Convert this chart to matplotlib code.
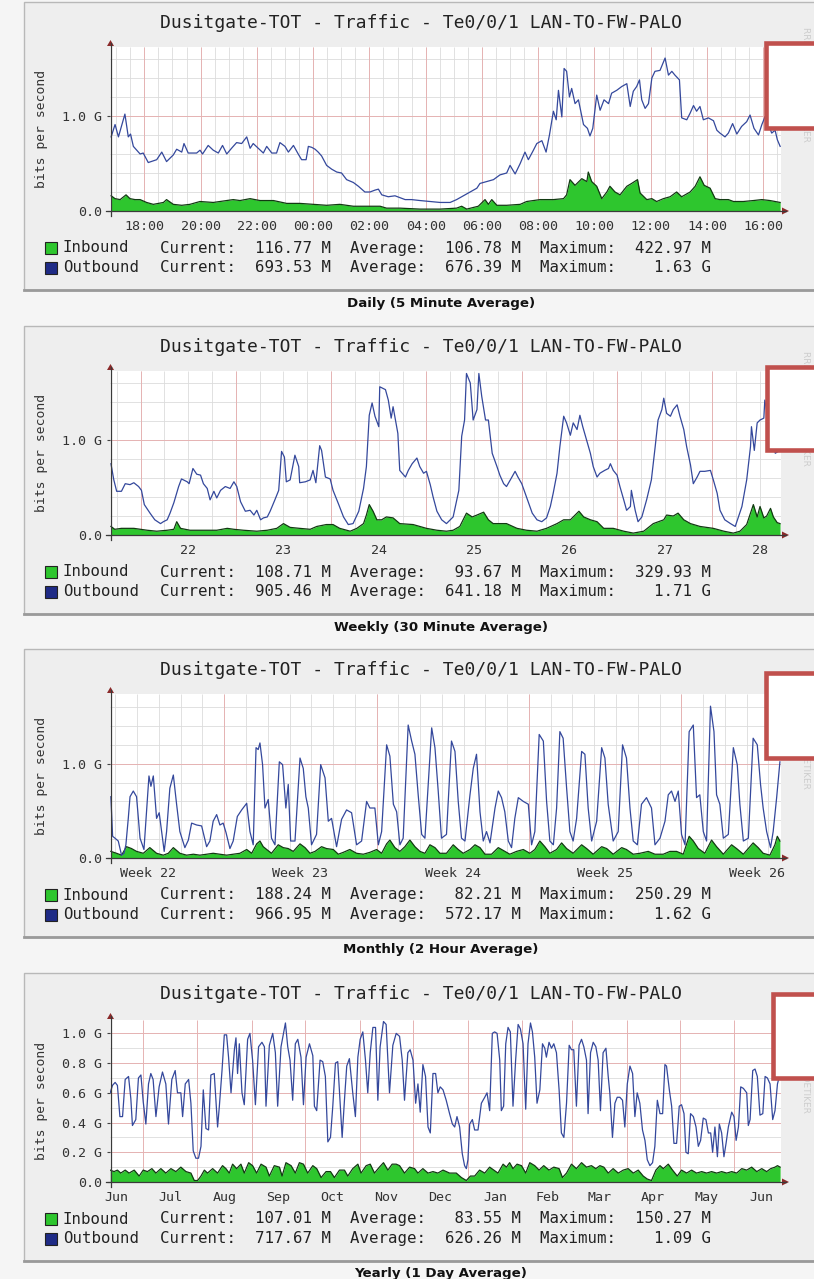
import numpy as np
import matplotlib
matplotlib.use("Agg")
import matplotlib.pyplot as plt
from matplotlib.patches import Rectangle, Polygon

W, H = 814, 1279
MONO = "DejaVu Sans Mono"
TITLE = "Dusitgate-TOT - Traffic - Te0/0/1 LAN-TO-FW-PALO"

# ---------------- daily: x in hours (24 = 00:00 next day), y in Gbit/s ----------------
DAY_OUT_T = [16.82,16.96,17.08,17.31,17.43,17.51,17.61,17.85,17.96,18.14,18.44,18.62,18.79,19.03,19.15,19.33,19.41,19.56,19.86,19.98,
             20.07,20.27,20.45,20.63,20.78,20.93,21.10,21.28,21.46,21.64,21.76,21.87,22.05,22.23,22.35,22.53,22.70,22.82,23.00,23.12,
             23.30,23.47,23.59,23.75,23.83,23.95,24.07,24.18,24.30,24.48,24.66,24.84,25.01,25.19,25.43,25.61,25.84,26.02,26.20,26.32,
             26.44,26.67,26.91,27.09,27.27,27.50,27.80,
             28.16,28.51,28.87,29.10,29.34,29.58,29.82,29.93,30.17,30.41,30.64,30.88,31.00,31.18,31.36,31.53,31.65,31.83,31.95,32.13,
             32.28,32.40,32.54,32.64,32.72,32.84,32.92,33.01,33.11,33.19,33.31,33.43,33.61,33.75,33.84,33.94,34.08,34.20,34.34,34.50,
             34.61,34.79,34.97,35.15,35.27,35.38,35.50,35.60,35.68,35.80,35.92,36.04,36.15,36.33,36.51,36.63,36.75,36.86,37.02,37.10,
             37.28,37.40,37.52,37.63,37.75,37.87,38.05,38.23,38.35,38.46,38.64,38.76,38.91,39.06,39.23,39.41,39.53,39.67,39.83,39.95,
             40.06,40.18,40.30,40.42,40.50,40.60]
DAY_OUT = [0.78,0.91,0.78,1.02,0.78,0.81,0.68,0.60,0.61,0.51,0.54,0.62,0.52,0.59,0.65,0.62,0.71,0.61,0.61,0.64,
           0.60,0.69,0.64,0.61,0.69,0.60,0.66,0.72,0.71,0.78,0.66,0.71,0.66,0.61,0.68,0.61,0.61,0.72,0.68,0.62,
           0.69,0.60,0.54,0.54,0.68,0.67,0.65,0.62,0.58,0.48,0.44,0.41,0.40,0.33,0.30,0.26,0.20,0.20,0.22,0.23,
           0.17,0.15,0.16,0.14,0.12,0.12,0.11,
           0.10,0.09,0.09,0.12,0.16,0.20,0.24,0.29,0.31,0.33,0.38,0.40,0.48,0.39,0.50,0.62,0.54,0.64,0.71,0.74,
           0.62,0.80,1.05,0.96,1.27,0.99,1.50,1.47,1.20,1.29,1.13,1.17,0.91,0.87,0.79,0.87,1.22,1.06,1.17,1.13,
           1.24,1.27,1.31,1.34,1.10,1.26,1.31,1.38,1.17,1.08,1.13,1.40,1.47,1.48,1.61,1.43,1.47,1.43,1.38,0.98,
           0.96,1.03,1.11,1.05,1.10,0.96,0.98,0.95,0.85,0.82,0.78,0.82,0.92,0.81,0.89,0.94,1.01,0.87,0.80,0.91,
           0.99,0.91,0.82,0.85,0.75,0.68]
DAY_IN_T = [16.82,16.96,17.14,17.35,17.49,17.67,17.85,18.08,18.32,18.68,18.79,19.03,19.33,19.62,19.98,20.45,20.69,21.16,21.40,21.76,
            22.11,22.59,23.06,23.53,24.01,24.48,24.95,25.43,25.90,26.38,26.61,27.09,27.80,28.51,29.10,29.28,29.46,29.87,30.11,30.23,
            30.35,30.53,30.88,31.36,31.59,32.07,32.54,32.90,33.01,33.13,33.31,33.55,33.73,33.78,33.90,34.08,34.26,34.44,34.55,34.73,
            34.91,35.15,35.32,35.53,35.62,35.86,36.04,36.21,36.45,36.69,36.92,37.10,37.40,37.58,37.75,37.90,38.11,38.29,38.46,38.76,
            38.94,39.29,39.65,39.95,40.24,40.60]
DAY_IN = [0.16,0.13,0.12,0.17,0.13,0.12,0.12,0.09,0.07,0.09,0.12,0.07,0.06,0.07,0.10,0.09,0.10,0.12,0.11,0.13,
          0.11,0.11,0.08,0.08,0.07,0.06,0.07,0.05,0.05,0.05,0.03,0.03,0.02,0.02,0.03,0.05,0.02,0.05,0.12,0.07,
          0.12,0.06,0.06,0.07,0.10,0.12,0.12,0.13,0.17,0.33,0.27,0.34,0.31,0.41,0.31,0.26,0.13,0.20,0.26,0.20,
          0.17,0.26,0.29,0.33,0.19,0.12,0.13,0.10,0.13,0.15,0.20,0.15,0.20,0.26,0.36,0.27,0.24,0.13,0.12,0.12,
          0.10,0.10,0.11,0.12,0.11,0.09]
DAY_TICKS = [18, 20, 22, 24, 26, 28, 30, 32, 34, 36, 38, 40]
DAY_LABELS = ["18:00", "20:00", "22:00", "00:00", "02:00", "04:00",
              "06:00", "08:00", "10:00", "12:00", "14:00", "16:00"]
DAY_LEG = ["Current:  116.77 M  Average:  106.78 M  Maximum:  422.97 M",
           "Current:  693.53 M  Average:  676.39 M  Maximum:    1.63 G"]

# ---------------- weekly: x in days (23.0 = midnight starting the 23rd) ----------------
WEEK_OUT_T = [21.69,21.72,21.75,21.80,21.84,21.89,21.93,21.98,22.01,22.04,22.10,22.15,22.21,22.24,22.28,22.31,22.35,22.40,22.43,22.49,
              22.51,22.55,22.59,22.63,22.66,22.70,22.73,22.77,22.80,22.84,22.89,22.94,22.98,23.01,23.05,23.10,23.15,23.19,23.22,23.26,
              23.29,23.33,23.36,23.41,23.45,23.48,23.51,23.53,23.57,23.62,23.66,23.67,23.73,23.78,23.81,23.84,23.88,23.90,23.94,23.99,
              24.02,24.08,24.13,24.18,24.23,24.29,24.34,24.37,24.40,24.43,24.46,24.50,24.51,24.57,24.60,24.63,24.65,24.70,24.72,
              24.78,24.81,24.85,24.90,24.93,24.97,25.00,25.04,25.07,25.11,25.16,25.21,25.25,25.28,25.34,25.37,25.40,25.42,25.46,25.49,
              25.53,25.55,25.58,25.62,25.65,25.69,25.74,25.77,25.81,25.84,25.88,25.93,25.96,26.00,26.05,26.11,26.16,26.21,26.26,26.30,
              26.33,26.37,26.40,26.44,26.47,26.51,26.54,26.58,26.61,26.64,26.68,26.72,26.75,26.79,26.82,26.87,26.91,26.93,26.96,27.00,
              27.03,27.07,27.10,27.14,27.15,27.19,27.22,27.26,27.31,27.36,27.40,27.43,27.47,27.49,27.52,27.56,27.59,27.63,27.66,27.70,
              27.73,27.77,27.80,27.84,27.87,27.92,27.98,28.01,28.05,28.08,28.13,28.19,28.24,28.27,28.31,28.36,28.40,28.41,28.44,28.47,
              28.50,28.54,28.55,28.59,28.62,28.66,28.69,28.71]
WEEK_OUT = [0.75,0.58,0.46,0.46,0.54,0.53,0.55,0.51,0.47,0.32,0.23,0.16,0.12,0.14,0.16,0.23,0.34,0.51,0.59,0.56,
            0.54,0.70,0.64,0.63,0.54,0.49,0.37,0.46,0.39,0.47,0.51,0.49,0.56,0.51,0.35,0.25,0.26,0.21,0.26,0.16,
            0.18,0.19,0.25,0.37,0.47,0.88,0.82,0.56,0.58,0.84,0.72,0.55,0.56,0.58,0.68,0.55,0.94,0.89,0.61,0.59,
            0.47,0.32,0.19,0.11,0.12,0.25,0.49,0.72,1.26,1.39,1.25,1.14,1.56,1.53,1.42,1.23,1.35,1.07,0.68,
            0.61,0.68,0.75,0.81,0.72,0.65,0.67,0.53,0.40,0.25,0.16,0.12,0.16,0.19,0.47,1.04,1.21,1.70,1.60,1.21,
            1.32,1.70,1.46,1.21,1.21,0.86,0.72,0.63,0.54,0.51,0.58,0.67,0.61,0.54,0.40,0.23,0.16,0.14,0.18,0.30,
            0.44,0.65,0.93,1.25,1.18,1.05,1.18,1.11,1.26,1.14,1.00,0.86,0.72,0.61,0.65,0.68,0.70,0.75,0.68,0.63,
            0.51,0.37,0.26,0.30,0.47,0.26,0.14,0.19,0.37,0.58,0.93,1.21,1.32,1.44,1.28,1.25,1.32,1.37,1.25,1.11,
            0.93,0.74,0.54,0.61,0.67,0.67,0.68,0.58,0.44,0.26,0.16,0.12,0.09,0.18,0.30,0.58,0.93,1.14,0.89,1.18,
            1.21,1.23,1.42,1.21,1.05,0.86,0.88,0.93]
WEEK_IN_T = [21.69,21.73,21.80,21.93,22.00,22.07,22.17,22.28,22.35,22.38,22.42,22.52,22.66,22.80,22.91,22.98,23.08,23.22,23.33,23.43,
             23.50,23.57,23.67,23.78,23.85,23.95,24.02,24.09,24.20,24.27,24.34,24.37,24.40,24.44,24.48,24.53,24.58,24.65,24.72,24.86,
             25.00,25.11,25.21,25.28,25.35,25.42,25.48,25.53,25.60,25.65,25.70,25.77,25.84,25.95,26.05,26.16,26.26,26.37,26.44,26.51,
             26.60,26.65,26.72,26.79,26.86,26.96,27.07,27.17,27.28,27.38,27.49,27.52,27.59,27.64,27.70,27.77,27.87,28.01,28.12,28.22,
             28.29,28.36,28.43,28.47,28.50,28.54,28.57,28.61,28.64,28.68,28.71]
WEEK_IN = [0.09,0.06,0.07,0.07,0.06,0.05,0.04,0.05,0.06,0.14,0.07,0.05,0.05,0.05,0.07,0.06,0.05,0.04,0.05,0.07,
           0.12,0.08,0.07,0.06,0.09,0.11,0.11,0.07,0.04,0.07,0.12,0.21,0.32,0.25,0.16,0.16,0.19,0.18,0.12,0.11,
           0.07,0.05,0.04,0.05,0.09,0.23,0.19,0.21,0.24,0.16,0.12,0.12,0.12,0.07,0.05,0.04,0.07,0.12,0.16,0.16,
           0.25,0.19,0.16,0.14,0.07,0.07,0.04,0.02,0.04,0.12,0.16,0.21,0.20,0.23,0.16,0.12,0.09,0.07,0.04,0.02,
           0.04,0.11,0.32,0.19,0.30,0.18,0.20,0.28,0.19,0.13,0.12]
WEEK_TICKS = [22.5, 23.5, 24.5, 25.5, 26.5, 27.5, 28.5]
WEEK_LABELS = ["22", "23", "24", "25", "26", "27", "28"]
WEEK_LEG = ["Current:  108.71 M  Average:   93.67 M  Maximum:  329.93 M",
            "Current:  905.46 M  Average:  641.18 M  Maximum:    1.71 G"]

# ---------------- monthly: x in days since start of week 22 ----------------
MONTH_OUT_T = [1.79,1.87,1.98,2.13,2.28,2.39,2.48,2.59,2.67,2.82,2.97,3.13,3.31,3.43,3.54,3.63,3.74,3.89,4.01,4.12,
               4.24,4.35,4.50,4.66,4.81,4.96,5.19,5.35,5.50,5.73,5.96,6.19,6.34,6.49,6.65,6.80,6.95,7.08,7.26,7.41,
               7.60,7.80,8.03,8.18,8.33,8.46,8.56,8.64,8.76,8.87,9.02,9.17,9.33,9.53,9.68,9.83,9.94,10.05,10.25,10.48,
               10.63,10.75,10.86,11.01,11.24,11.43,11.63,11.78,11.93,12.16,12.39,12.62,12.85,13.08,13.31,13.54,13.69,13.92,14.08,14.23,
               14.46,14.61,14.77,14.92,15.07,15.22,
               15.45,15.61,15.76,15.91,16.07,16.22,16.37,16.53,16.68,16.83,16.98,17.21,17.44,17.60,17.75,17.90,18.06,18.29,18.44,18.59,
               18.75,18.90,19.05,19.21,19.44,19.59,19.74,19.89,20.05,20.20,20.35,20.51,20.74,20.97,21.12,21.27,21.47,21.66,21.81,21.96,
               22.12,22.27,22.42,22.57,22.73,22.88,23.03,23.19,23.42,23.57,23.72,23.88,24.11,24.34,24.49,24.64,24.87,25.10,25.30,25.48,
               25.64,25.79,25.98,26.17,26.40,26.63,26.79,27.02,27.25,27.40,27.55,27.71,27.86,28.01,28.17,28.36,28.55,28.70,28.85,29.01,
               29.16,29.34,29.50,29.62,29.77,29.93,30.16,30.39,30.57,30.69,30.85,31.08,31.30,31.49,31.64,31.76,31.92,32.10,32.22,32.38,
               32.53]
MONTH_OUT = [0.65,0.23,0.21,0.18,0.03,0.05,0.14,0.42,0.65,0.71,0.65,0.21,0.09,0.49,0.87,0.76,0.87,0.42,0.48,0.28,
             0.07,0.28,0.74,0.88,0.57,0.28,0.11,0.19,0.37,0.35,0.34,0.12,0.18,0.39,0.46,0.35,0.37,0.27,0.10,0.18,
             0.44,0.51,0.58,0.28,0.14,1.17,1.15,1.22,0.99,0.53,0.62,0.21,0.14,1.02,0.99,0.53,0.78,0.18,0.18,1.06,
             0.95,0.65,0.53,0.14,0.25,0.99,0.85,0.39,0.42,0.12,0.41,0.51,0.48,0.14,0.18,0.60,0.53,0.53,0.14,0.28,
             1.20,1.08,0.57,0.49,0.14,0.21,
             1.41,1.24,1.10,0.67,0.25,0.21,0.78,1.38,1.17,0.71,0.21,0.25,1.24,1.13,0.60,0.21,0.18,0.67,0.95,1.10,
             0.49,0.18,0.28,0.16,0.53,0.71,0.64,0.49,0.18,0.11,0.42,0.64,0.60,0.57,0.14,0.28,1.31,1.24,0.60,0.18,
             0.14,0.53,1.34,1.27,0.74,0.28,0.18,0.42,1.13,1.10,0.53,0.18,0.39,1.17,1.06,0.57,0.18,0.28,1.20,1.06,
             0.53,0.18,0.14,0.57,0.64,0.53,0.14,0.21,0.39,0.67,0.71,0.60,0.71,0.25,0.14,1.34,1.41,0.64,0.67,0.28,
             0.18,1.61,1.34,0.67,0.57,0.21,0.25,1.17,0.99,0.57,0.18,0.21,1.27,1.20,0.78,0.53,0.28,0.11,0.28,0.64,
             1.02]
MONTH_IN_T = [1.79,2.05,2.28,2.51,2.74,2.97,3.28,3.58,3.89,4.20,4.43,4.66,4.96,5.27,5.58,5.88,6.19,6.49,6.80,7.11,
              7.41,7.72,8.03,8.26,8.49,8.64,8.79,8.95,9.17,9.48,9.71,9.94,10.17,10.48,10.71,10.94,11.17,11.47,11.70,12.01,
              12.24,12.47,12.77,13.08,13.39,13.69,14.00,14.23,14.46,14.61,14.84,15.07,15.30,
              15.53,15.76,15.99,16.22,16.45,16.68,16.91,17.21,17.52,17.75,17.98,18.29,18.52,18.75,18.98,19.28,19.59,19.82,20.12,20.43,
              20.74,21.04,21.27,21.50,21.73,21.96,22.27,22.50,22.73,23.03,23.42,23.65,23.95,24.34,24.57,24.87,25.26,25.48,25.79,26.10,
              26.48,26.79,27.17,27.48,27.78,28.09,28.36,28.55,28.78,29.08,29.39,29.62,29.93,30.31,30.54,30.85,31.30,31.53,31.76,32.07,
              32.30,32.41,32.53]
MONTH_IN = [0.07,0.05,0.03,0.12,0.10,0.07,0.05,0.11,0.05,0.03,0.05,0.11,0.05,0.03,0.04,0.03,0.04,0.05,0.04,0.03,
            0.04,0.05,0.09,0.05,0.15,0.18,0.12,0.09,0.05,0.14,0.11,0.10,0.07,0.15,0.11,0.05,0.07,0.12,0.10,0.09,
            0.04,0.06,0.09,0.05,0.04,0.06,0.09,0.05,0.15,0.19,0.11,0.07,0.12,
            0.19,0.12,0.07,0.05,0.14,0.11,0.05,0.05,0.14,0.09,0.05,0.09,0.14,0.11,0.04,0.04,0.11,0.08,0.04,0.07,
            0.09,0.05,0.09,0.18,0.12,0.05,0.09,0.16,0.10,0.05,0.14,0.10,0.04,0.12,0.10,0.04,0.11,0.09,0.04,0.05,
            0.07,0.04,0.04,0.07,0.07,0.04,0.23,0.18,0.10,0.05,0.19,0.12,0.04,0.14,0.10,0.04,0.16,0.11,0.05,0.03,
            0.14,0.23,0.18]
MONTH_TICKS = [3.5, 10.5, 17.5, 24.5, 31.5]
MONTH_LABELS = ["Week 22", "Week 23", "Week 24", "Week 25", "Week 26"]
MONTH_LEG = ["Current:  188.24 M  Average:   82.21 M  Maximum:  250.29 M",
             "Current:  966.95 M  Average:  572.17 M  Maximum:    1.62 G"]

# ---------------- yearly: x in days since 1 Jul ----------------
YEAR_OUT_T = [-18.3,-17.0,-15.5,-14.2,-12.8,-11.3,-9.8,-7.9,-6.6,-5.7,-3.8,-2.3,-0.9,0.4,1.9,3.4,4.7,6.0,7.6,9.4,
              11.3,13.2,14.7,16.6,18.5,19.8,21.7,22.7,24.2,26.1,27.4,28.7,30.2,31.7,33.1,34.4,35.9,37.4,38.7,40.6,
              42.5,43.5,45.0,46.3,47.6,48.7,50.1,52.0,52.9,53.8,54.8,56.3,57.6,59.5,60.8,62.3,63.9,65.7,67.6,69.0,
              69.9,71.8,73.7,75.2,76.5,78.4,80.9,82.2,83.5,85.0,86.5,87.9,89.7,91.1,92.6,94.5,96.4,97.3,98.6,100.5,
              102.0,103.5,104.9,106.4,107.7,109.2,110.5,111.8,113.0,114.3,115.6,117.1,119.0,120.5,121.9,123.2,124.7,126.2,127.5,128.9,
              130.4,131.9,133.2,134.5,136.4,137.9,139.8,141.7,143.6,
              145.5,147.0,148.3,150.2,151.5,153.1,154.6,155.9,157.2,158.7,160.2,161.6,162.9,164.4,165.9,167.2,168.5,170.1,171.9,173.8,
              175.4,176.7,178.0,179.5,181.0,182.3,183.3,184.2,185.2,186.7,188.0,189.9,191.8,193.7,195.0,196.5,198.0,199.3,200.7,202.2,
              203.1,204.4,205.6,206.9,208.2,209.7,211.2,212.6,213.9,215.4,216.9,218.2,219.6,220.7,222.0,223.3,224.9,226.4,227.7,228.6,
              230.1,231.5,232.8,234.3,235.8,237.1,238.5,240.0,241.5,242.8,244.1,245.6,247.1,248.5,249.8,251.3,252.2,253.6,255.1,256.6,
              257.9,259.2,260.7,262.3,263.6,264.5,266.0,267.4,268.7,270.2,271.7,273.0,274.4,275.9,277.4,278.7,280.0,281.5,283.0,284.4,
              285.7,287.2,288.7,290.0,291.4,292.9,294.4,295.7,296.6,298.2,299.5,300.8,302.3,303.8,305.1,306.5,307.6,308.9,310.2,311.8,
              313.3,314.6,315.9,317.4,318.9,320.3,321.6,322.7,324.0,325.4,326.5,327.8,329.1,330.3,331.6,333.5,334.8,336.0,337.3,338.6,
              340.1,342.0,342.9,343.9,345.4,346.7,348.0,349.5,351.1,352.4,353.7,355.2,356.7,358.0,359.4,360.9]
YEAR_OUT = [0.60,0.65,0.67,0.65,0.44,0.44,0.69,0.71,0.56,0.38,0.42,0.70,0.72,0.54,0.39,0.66,0.73,0.69,0.44,0.64,
            0.74,0.66,0.39,0.69,0.75,0.60,0.60,0.44,0.66,0.69,0.53,0.21,0.16,0.16,0.24,0.62,0.36,0.35,0.72,0.73,
            0.37,0.51,0.75,0.99,0.99,0.84,0.60,0.89,0.97,0.73,0.93,0.60,0.52,0.96,1.00,0.82,0.52,0.91,0.94,0.91,
            0.51,0.92,1.00,0.87,0.51,0.91,1.07,0.91,0.82,0.55,0.93,0.96,0.84,0.52,0.84,0.93,0.85,0.51,0.48,0.82,
            0.81,0.71,0.27,0.30,0.51,0.80,0.81,0.55,0.30,0.55,0.78,0.83,0.60,0.44,0.84,0.96,1.01,0.82,0.60,0.87,
            1.04,1.04,0.55,0.91,1.08,1.06,0.60,0.92,1.00,
            0.98,0.82,0.55,0.87,0.89,0.82,0.53,0.66,0.47,0.79,0.71,0.37,0.33,0.73,0.73,0.60,0.64,0.62,0.55,0.46,
            0.39,0.37,0.44,0.37,0.19,0.11,0.09,0.15,0.39,0.42,0.35,0.35,0.53,0.57,0.60,0.48,1.00,1.01,1.00,0.82,
            0.48,0.51,0.93,1.04,1.01,0.51,0.82,1.06,1.03,0.93,0.49,0.93,1.07,1.01,0.84,0.53,0.62,0.93,0.90,0.84,
            0.94,0.90,0.93,0.87,0.62,0.33,0.30,0.53,0.92,0.89,0.89,0.51,0.92,0.96,0.91,0.82,0.46,0.87,0.94,0.91,
            0.82,0.48,0.87,0.90,0.71,0.60,0.30,0.53,0.57,0.57,0.55,0.37,0.66,0.78,0.73,0.44,0.60,0.53,0.35,0.28,
            0.15,0.11,0.13,0.24,0.55,0.46,0.46,0.79,0.78,0.62,0.51,0.26,0.26,0.51,0.52,0.46,0.20,0.19,0.46,0.44,
            0.37,0.24,0.28,0.43,0.42,0.33,0.33,0.20,0.37,0.17,0.39,0.33,0.17,0.26,0.37,0.47,0.44,0.28,0.37,0.64,
            0.63,0.60,0.38,0.42,0.75,0.76,0.71,0.45,0.46,0.71,0.70,0.66,0.42,0.48,0.66,0.73]
YEAR_IN_T = [-18.3,-16.1,-14.2,-12.3,-9.8,-7.6,-4.7,-1.9,0.4,2.8,5.3,7.6,10.4,13.2,16.1,18.9,21.7,24.6,27.4,29.3,
             31.2,33.1,35.0,36.8,39.7,42.5,45.3,47.2,49.1,51.0,53.3,55.7,57.6,60.1,62.3,64.6,67.1,69.9,71.8,74.6,
             77.5,79.0,81.2,84.1,86.5,88.8,91.1,93.5,96.4,98.6,101.1,103.9,106.4,108.6,111.5,114.3,116.2,119.0,121.9,123.7,
             126.6,128.9,131.3,134.1,136.4,138.9,141.3,143.6,
             145.5,148.3,151.2,154.0,155.9,158.7,161.6,164.4,167.2,170.1,173.8,177.6,180.5,183.3,185.6,188.0,190.8,193.7,196.5,198.8,
             201.2,204.1,206.0,207.8,209.7,212.0,214.5,216.9,219.2,222.0,224.5,227.1,230.1,232.8,235.8,237.7,240.0,242.8,245.6,248.5,
             251.3,254.1,256.6,258.9,261.1,263.6,266.4,269.3,272.1,274.9,277.8,280.6,283.4,285.7,288.1,290.6,292.9,294.8,297.6,300.0,
             302.7,305.1,308.0,310.8,313.6,316.5,319.3,322.1,325.0,327.8,330.7,333.5,336.3,339.2,342.0,344.8,347.7,350.5,353.3,355.6,
             358.0,359.4,360.9]
YEAR_IN = [0.08,0.07,0.08,0.06,0.08,0.06,0.08,0.04,0.08,0.07,0.09,0.06,0.09,0.06,0.09,0.07,0.10,0.07,0.06,0.01,
           0.01,0.04,0.08,0.06,0.09,0.06,0.11,0.09,0.06,0.12,0.09,0.12,0.06,0.13,0.11,0.06,0.12,0.10,0.04,0.11,
           0.10,0.04,0.13,0.11,0.06,0.13,0.12,0.06,0.11,0.09,0.03,0.07,0.07,0.03,0.08,0.08,0.04,0.09,0.12,0.06,
           0.11,0.12,0.06,0.10,0.13,0.08,0.12,0.12,
           0.11,0.06,0.10,0.09,0.06,0.09,0.06,0.07,0.06,0.08,0.06,0.06,0.03,0.01,0.04,0.04,0.08,0.06,0.10,0.08,
           0.06,0.12,0.10,0.13,0.09,0.12,0.11,0.06,0.13,0.11,0.08,0.11,0.08,0.10,0.09,0.03,0.06,0.12,0.09,0.13,
           0.10,0.11,0.09,0.11,0.10,0.06,0.09,0.06,0.08,0.09,0.06,0.08,0.04,0.02,0.01,0.08,0.11,0.09,0.12,0.08,
           0.04,0.08,0.06,0.08,0.06,0.07,0.06,0.07,0.06,0.07,0.06,0.07,0.06,0.09,0.08,0.10,0.07,0.09,0.07,0.09,
           0.10,0.11,0.10]
MONTH_STARTS = [0, 31, 62, 92, 123, 153, 184, 215, 243, 274, 304, 335]
YEAR_TICKS = [-15, 15.5, 46.5, 77, 107.5, 138, 168.5, 199.5, 229, 258.5, 289, 319.5, 350]
YEAR_LABELS = ["Jun", "Jul", "Aug", "Sep", "Oct", "Nov", "Dec", "Jan", "Feb", "Mar", "Apr", "May", "Jun"]
YEAR_LEG = ["Current:  107.01 M  Average:   83.55 M  Maximum:  150.27 M",
            "Current:  717.67 M  Average:  626.26 M  Maximum:    1.09 G"]

CAPTIONS = ["Daily (5 Minute Average)", "Weekly (30 Minute Average)",
            "Monthly (2 Hour Average)", "Yearly (1 Day Average)"]

GREEN, GREEN_EDGE, BLUE = "#2ec62e", "#123a12", "#34489c"
MINOR, MAJOR = "#dcdcdc", "#e6b3b3"
X0, X1 = 110, 781           # plot canvas, pixels

fig = plt.figure(figsize=(W / 100, H / 100), dpi=100, facecolor="#f5f5f5")
bg = fig.add_axes([0, 0, 1, 1], zorder=0); bg.set_xlim(0, W); bg.set_ylim(H, 0); bg.axis("off")
fg = fig.add_axes([0, 0, 1, 1], zorder=5); fg.set_xlim(0, W); fg.set_ylim(H, 0); fg.axis("off")


def panel(zero, top, ymax, xlim, out_t, out_v, in_t, in_v, vmin, vmaj, hmin, hmaj,
          yt, ytl, xt, xtl, leg, cap, redbox):
    # panel frame
    bg.add_patch(Rectangle((24, zero - 209), 830 - 24, 288, fc="#eeeeee", ec="#b8b8b8", lw=1))
    bg.plot([24, 830], [zero + 79, zero + 79], color="#9a9a9a", lw=2)
    ax = fig.add_axes([X0 / W, 1 - zero / H, (X1 - X0) / W, (zero - top) / H], zorder=2)
    ax.set_facecolor("white")
    ax.set_xlim(*xlim); ax.set_ylim(0, ymax)
    for s in ax.spines.values():
        s.set_visible(False)
    ax.vlines(vmin, 0, ymax, color=MINOR, lw=0.6, zorder=0.5)
    ax.hlines(hmin, *xlim, color=MINOR, lw=0.6, zorder=0.5)
    ax.vlines(vmaj, 0, ymax, color=MAJOR, lw=0.7, zorder=0.6)
    ax.hlines(hmaj, *xlim, color=MAJOR, lw=0.7, zorder=0.6)
    ax.fill_between(in_t, in_v, color=GREEN, lw=0, zorder=2)
    ax.plot(in_t, in_v, color=GREEN_EDGE, lw=0.9, zorder=3)
    ax.plot(out_t, out_v, color=BLUE, lw=0.9, zorder=4)
    ax.set_yticks(yt, ytl, fontfamily=MONO, fontsize=9.6, color="#333333")
    ax.set_xticks(xt, xtl, fontfamily=MONO, fontsize=9.6, color="#333333")
    ax.tick_params(axis="x", length=0, pad=6.5)
    ax.tick_params(axis="y", length=2.5, width=0.8, pad=3, color="#444444")

    # axes lines with arrows
    fg.plot([X0 + 0.5, X0 + 0.5], [zero + 5, top - 4], color="#3a3a3a", lw=0.9)
    fg.plot([X0 - 4, X1 + 5], [zero, zero], color="#3a3a3a", lw=0.9)
    fg.add_patch(Polygon([[X0 - 3, top - 1], [X0 + 4, top - 1], [X0 + 0.5, top - 7]], color="#8b2a2a", lw=0))
    fg.add_patch(Polygon([[X1 + 1, zero - 3.5], [X1 + 1, zero + 3.5], [X1 + 8, zero]], color="#8b2a2a", lw=0))

    fg.text(420.5, zero - 188, TITLE, fontfamily=MONO, fontsize=13.0, color="#222222",
            ha="center", va="center")
    fg.text(42, (zero + top) / 2, "bits per second", fontfamily=MONO, fontsize=9.4,
            color="#333333", rotation=90, ha="center", va="center")
    fg.text(806, zero - 127, "RRDTOOL / TOBI OETIKER", fontfamily="DejaVu Sans", fontsize=6.5,
            color="#cdcdcd", rotation=270, ha="center", va="center")
    for k, (name, col) in enumerate([("Inbound", GREEN), ("Outbound", "#1f2b86")]):
        yy = zero + 37 + 19.5 * k
        fg.add_patch(Rectangle((44.5, yy - 6), 12, 12, fc=col, ec="#222222", lw=0.8))
        fg.text(63, yy, name, fontfamily=MONO, fontsize=11.3, color="#222222", va="center")
        fg.text(160, yy, leg[k], fontfamily=MONO, fontsize=11.3, color="#222222", va="center")
    fg.text(441, zero + 92, cap, fontfamily="DejaVu Sans", fontweight="bold", fontsize=9.6,
            color="#111111", ha="center", va="center")
    rx, ry0, ry1 = redbox
    fg.add_patch(Rectangle((rx, ry0), 80, ry1 - ry0, fc="white", ec="#c0504d", lw=3.3, zorder=6))


# daily
panel(211, 47, 1.726, (16.78, 40.63), DAY_OUT_T, DAY_OUT, DAY_IN_T, DAY_IN,
      np.arange(17.0, 40.6, 0.5), DAY_TICKS, np.arange(0.2, 1.72, 0.2), [1.0],
      [0, 1.0], ["0.0", "1.0 G"], DAY_TICKS, DAY_LABELS, DAY_LEG, CAPTIONS[0], (766, 43, 128))
# weekly
panel(535, 371, 1.726, (21.68, 28.72), WEEK_OUT_T, WEEK_OUT, WEEK_IN_T, WEEK_IN,
      np.arange(21.75, 28.72, 0.25), [22, 23, 24, 25, 26, 27, 28], np.arange(0.2, 1.72, 0.2), [1.0],
      [0, 1.0], ["0.0", "1.0 G"], WEEK_TICKS, WEEK_LABELS, WEEK_LEG, CAPTIONS[1], (767, 367, 450))
# monthly
panel(858, 694, 1.739, (1.75, 32.58), MONTH_OUT_T, MONTH_OUT, MONTH_IN_T, MONTH_IN,
      np.arange(2, 33, 1), [7, 14, 21, 28], np.arange(0.2, 1.73, 0.2), [1.0],
      [0, 1.0], ["0.0", "1.0 G"], MONTH_TICKS, MONTH_LABELS, MONTH_LEG, CAPTIONS[2], (766, 673, 758))
# yearly
panel(1182, 1020, 1.09, (-18.4, 361.4), YEAR_OUT_T, YEAR_OUT, YEAR_IN_T, YEAR_IN,
      [], MONTH_STARTS, np.arange(0.1, 1.09, 0.1), [0.2, 0.4, 0.6, 0.8, 1.0],
      [0, 0.2, 0.4, 0.6, 0.8, 1.0], ["0.0", "0.2 G", "0.4 G", "0.6 G", "0.8 G", "1.0 G"],
      YEAR_TICKS, YEAR_LABELS, YEAR_LEG, CAPTIONS[3], (773, 994, 1078))

fig.savefig("out.png", dpi=100, facecolor=fig.get_facecolor())
